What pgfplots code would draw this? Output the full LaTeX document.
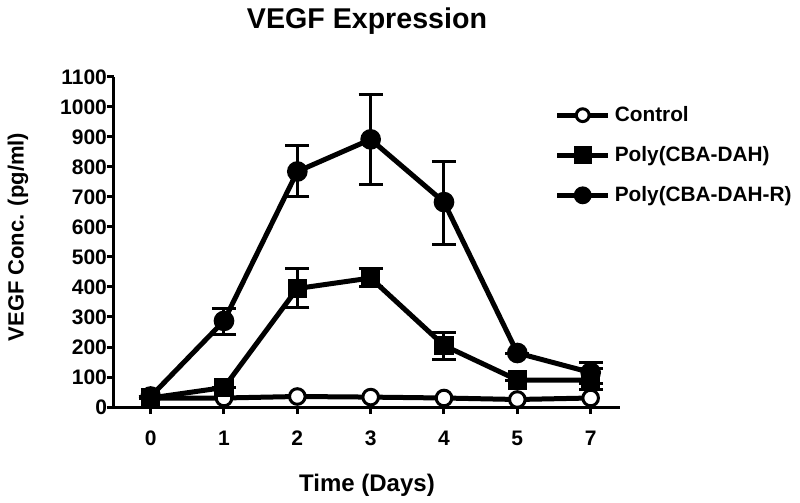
\documentclass[border=0pt]{standalone}
\usepackage{fontspec}
\setmainfont{Liberation Sans}
\usepackage{pgfplots}
\usepackage{pgfplotstable}
\pgfplotsset{compat=1.18}

\pgfplotstableread{
x y ep em
0 30 0 0
1 30 0 0
2 35 0 0
3 33 0 0
4 30 0 0
5 25 0 0
6 30 0 0
}\ctrl

\pgfplotstableread{
x y ep em
0 30 0 0
1 65 0 0
2 395 65 65
3 430 30 30
4 205 45 45
5 90 0 0
6 90 40 30
}\poly

\pgfplotstableread{
x y ep em
0 35 0 0
1 287 40 45
2 785 85 85
3 892 150 150
4 683 135 140
5 180 0 0
6 115 35 35
}\polyr

\begin{document}
\begin{tikzpicture}
\begin{axis}[
  name=ax,
  scale only axis,
  width=253pt, height=165pt,
  xmin=-0.5, xmax=6.4,
  ymin=0, ymax=1100,
  axis lines=left,
  axis line style={line width=1.5pt, -},
  xtick={0,1,2,3,4,5,6},
  xticklabels={0,1,2,3,4,5,7},
  ytick={0,100,...,1100},
  tick align=outside,
  major tick length=3.5pt,
  tick style={line width=1.5pt, black},
  /pgf/number format/assume math mode=true,
  yticklabel={\pgfmathprintnumber[fixed,1000 sep={}]{\tick}},
  tick label style={font=\fontsize{10.5}{12}\selectfont\bfseries},
  xticklabel style={yshift=-5pt},
  yticklabel style={xshift=3.5pt},
  title={VEGF Expression},
  title style={font=\fontsize{14.3}{17}\selectfont\bfseries, at={(axis description cs:0.5,1.134)}, anchor=center},
  xlabel={Time (Days)},
  xlabel style={font=\fontsize{12}{14}\selectfont\bfseries, at={(axis description cs:0.5,-0.236)}, anchor=center},
  ylabel={VEGF Conc. (pg/ml)},
  ylabel style={font=\fontsize{11}{13}\selectfont\bfseries, at={(axis description cs:-0.19,0.515)}, anchor=center},
  clip=false,
  legend style={draw=none, fill=none, at={(axis description cs:0.87,0.925)}, anchor=north west,
    font=\fontsize{10.4}{12}\selectfont\bfseries, row sep=7pt, inner sep=0pt},
  legend cell align=left,
  legend image code/.code={
    \draw[#1,mark size=3.2pt,mark repeat=2,mark phase=2] plot coordinates {(0cm,0cm) (0.45cm,0cm) (0.9cm,0cm)};
  },
  every axis plot/.append style={line width=2.5pt, black},
]
\addplot[mark=*, mark size=3.9pt, mark options={fill=white, line width=1.5pt}] table[x=x, y=y] {\ctrl};
\addlegendentry{Control}
\addplot[mark=square*, mark size=3.6pt, mark options={solid},
  error bars/y dir=both, error bars/y explicit,
  error bars/error bar style={line width=1.5pt},
  error bars/error mark options={rotate=90, line width=1.5pt, mark size=6pt}]
  table[x=x, y=y, y error plus=ep, y error minus=em] {\poly};
\addlegendentry{Poly(CBA-DAH)}
\addplot[mark=*, mark size=3.9pt,
  error bars/y dir=both, error bars/y explicit,
  error bars/error bar style={line width=1.5pt},
  error bars/error mark options={rotate=90, line width=1.5pt, mark size=6pt}]
  table[x=x, y=y, y error plus=ep, y error minus=em] {\polyr};
\addlegendentry{Poly(CBA-DAH-R)}
\end{axis}
\pgfresetboundingbox
\useasboundingbox ([xshift=-57pt, yshift=-47.5pt]ax.south west) rectangle ([xshift=90pt, yshift=38.5pt]ax.north east);
\end{tikzpicture}
\end{document}
